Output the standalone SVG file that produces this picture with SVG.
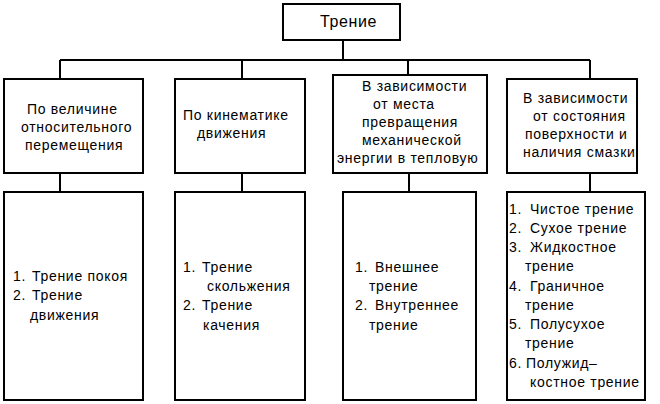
<svg xmlns="http://www.w3.org/2000/svg" width="660" height="404" viewBox="0 0 660 404">
<style>
rect{fill:#fff;stroke:#000;stroke-width:2}
.c line,.c path{stroke:#000;stroke-width:2;fill:none}
text{font-family:"Liberation Sans",Arial,sans-serif;font-size:14px;fill:#000;letter-spacing:0.7px}
.t{font-size:16px;letter-spacing:0.6px}
</style>
<rect x="0" y="0" width="660" height="404" style="stroke:none"/>
<g class="c" id="connectors">
<path d="M343 40V60M60 60H590M60 60V79M242 60V79M408 60V75M590 60V79"/>
<path d="M60 173V192M242 173V192M409 173V192M590 173V192"/>
</g>
<g id="n0"><rect x="283" y="4" width="117" height="36"/><text class="t" x="320" y="27">Трение</text></g>
<g id="n1"><rect x="4" y="79" width="139" height="94"/>
<text x="27" y="114">По величине</text><text x="21" y="132">относительного</text><text x="25" y="150">перемещения</text></g>
<g id="n2"><rect x="175" y="79" width="130" height="94"/>
<text x="183" y="120">По кинематике</text><text x="197" y="138">движения</text></g>
<g id="n3"><rect x="333" y="75" width="154" height="98"/>
<text x="362" y="91">В зависимости</text><text x="373" y="109">от места</text><text x="362" y="127">превращения</text><text x="362" y="145">механической</text><text x="337" y="163">энергии в тепловую</text></g>
<g id="n4"><rect x="507" y="79" width="130" height="94"/>
<text x="523" y="103">В зависимости</text><text x="533" y="121">от состояния</text><text x="525" y="139">поверхности и</text><text x="523" y="157">наличия смазки</text></g>
<g id="l1"><rect x="4" y="192" width="139" height="208"/>
<text x="13" y="281">1.<tspan x="32">Трение покоя</tspan></text>
<text x="13" y="300">2.<tspan x="32">Трение</tspan></text>
<text x="30" y="320">движения</text></g>
<g id="l2"><rect x="175" y="192" width="130" height="208"/>
<text x="183" y="272">1.<tspan x="202">Трение</tspan></text>
<text x="207" y="291">скольжения</text>
<text x="183" y="310">2.<tspan x="202">Трение</tspan></text>
<text x="203" y="330">качения</text></g>
<g id="l3"><rect x="343" y="192" width="133" height="208"/>
<text x="355" y="272">1.<tspan x="375">Внешнее</tspan></text>
<text x="369" y="291">трение</text>
<text x="355" y="310">2.<tspan x="375">Внутреннее</tspan></text>
<text x="369" y="330">трение</text></g>
<g id="l4"><rect x="507" y="192" width="138" height="208"/>
<text x="509" y="214">1.<tspan x="530">Чистое трение</tspan></text>
<text x="509" y="233">2.<tspan x="530">Сухое трение</tspan></text>
<text x="509" y="252">3.<tspan x="530">Жидкостное</tspan></text>
<text x="525" y="271">трение</text>
<text x="509" y="291">4.<tspan x="530">Граничное</tspan></text>
<text x="525" y="310">трение</text>
<text x="509" y="329">5.<tspan x="530">Полусухое</tspan></text>
<text x="525" y="348">трение</text>
<text x="509" y="368">6.<tspan x="526">Полужид–</tspan></text>
<text x="530" y="387">костное трение</text></g>
</svg>
